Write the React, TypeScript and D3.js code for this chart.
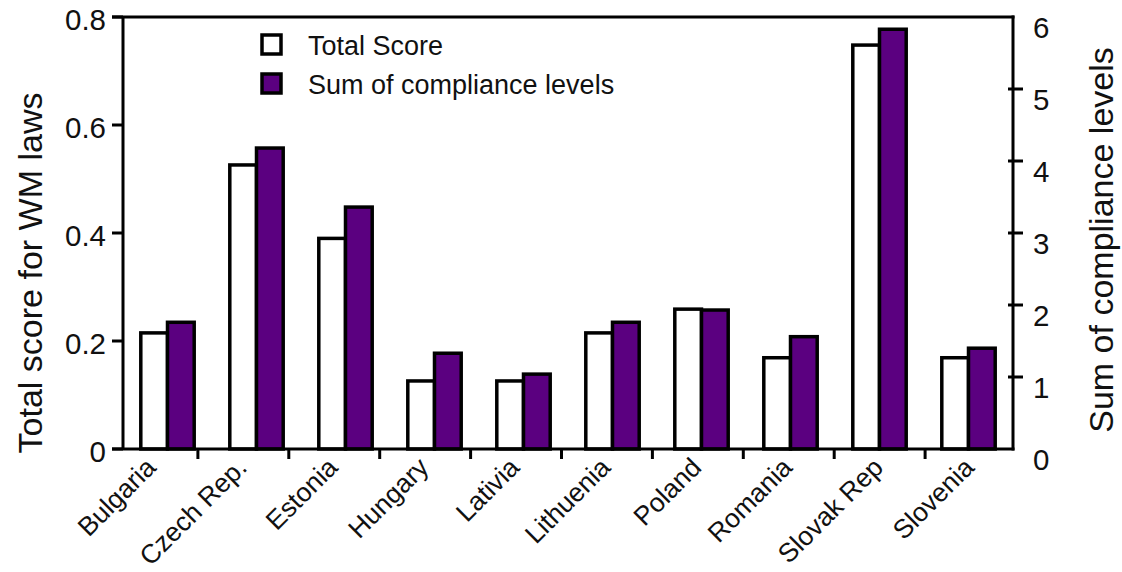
import React from "react";
import * as d3 from "d3";

const countries = ["Bulgaria", "Czech Rep.", "Estonia", "Hungary", "Lativia", "Lithuenia", "Poland", "Romania", "Slovak Rep", "Slovenia"];
const totalScore = [0.215, 0.526, 0.39, 0.126, 0.126, 0.215, 0.259, 0.169, 0.748, 0.169];
const complianceSum = [1.76, 4.18, 3.36, 1.33, 1.04, 1.76, 1.93, 1.56, 5.83, 1.4];
const leftTicks = [0, 0.2, 0.4, 0.6, 0.8];
const rightTicks = [0, 1, 2, 3, 4, 5, 6];
const seriesNames = ["Total Score", "Sum of compliance levels"];
const seriesKeys = ["total", "sum"];

const PURPLE = "#5b0080";
const FONT = "'Liberation Sans', Arial, sans-serif";

export default function App() {
  const W = 1122, H = 572;
  const top = 17, bottom = 449, left = 123, right = 1013;
  const yL = d3.scaleLinear().domain([0, 0.8]).range([bottom, top]);
  const yR = d3.scaleLinear().domain([0, 6]).range([bottom, top]);
  const xBar = d3.scaleBand<string>().domain(countries).range([left, right]).paddingInner(0.4).paddingOuter(0.2);
  const xSub = d3.scaleBand<string>().domain(seriesKeys).range([0, xBar.bandwidth()]);
  const xTick = d3.scaleBand<string>().domain(countries).range([107, 1016]);

  const sw = 3.5;
  return (
    <svg width={W} height={H} style={{ position: "absolute", left: 0, top: 0, background: "#fff" }} fontFamily={FONT}>
      <rect x={0} y={0} width={W} height={H} fill="#fff" />
      {/* bars */}
      {countries.map((c, i) => {
        const x0 = xBar(c)!;
        return (
          <g key={c}>
            <rect x={x0 + xSub("total")!} y={yL(totalScore[i])} width={xSub.bandwidth()} height={yL(0) - yL(totalScore[i])} fill="#fff" stroke="#000" strokeWidth={sw} />
            <rect x={x0 + xSub("sum")!} y={yR(complianceSum[i])} width={xSub.bandwidth()} height={yR(0) - yR(complianceSum[i])} fill={PURPLE} stroke="#000" strokeWidth={sw} />
          </g>
        );
      })}
      {/* frame */}
      <line x1={112} x2={right + 1.5} y1={top} y2={top} stroke="#000" strokeWidth={3} />
      <line x1={left} x2={left} y1={top} y2={bottom} stroke="#000" strokeWidth={3} />
      <line x1={right} x2={right} y1={top - 1.5} y2={bottom + 1.5} stroke="#000" strokeWidth={3} />
      <line x1={112} x2={right + 1.5} y1={bottom} y2={bottom} stroke="#000" strokeWidth={3} />
      {/* left ticks */}
      {leftTicks.map((t) => (
        <g key={"l" + t}>
          <line x1={112} x2={left} y1={yL(t)} y2={yL(t)} stroke="#000" strokeWidth={3} />
          <text x={106} y={yL(t) + 12.5} textAnchor="end" fontSize={29.5} fill="#111">{d3.format("~g")(t)}</text>
        </g>
      ))}
      {/* right ticks */}
      {rightTicks.map((t) => (
        <g key={"r" + t}>
          {t > 0 && t < 6 && <line x1={1008} x2={1023} y1={yR(t)} y2={yR(t)} stroke="#000" strokeWidth={3} />}
          <text x={1033} y={yR(t) + 21} textAnchor="start" fontSize={29.5} fill="#111">{t}</text>
        </g>
      ))}
      {/* x ticks and labels */}
      {countries.map((c, i) => (
        <g key={"x" + c}>
          {i > 0 && <line x1={xTick(c)!} x2={xTick(c)!} y1={bottom} y2={bottom + 10} stroke="#000" strokeWidth={3} />}
          <text
            transform={`translate(${xTick(c)! + xTick.bandwidth() / 2 + 5},${469}) rotate(-45)`}
            textAnchor="end"
            fontSize={26.5}
            fill="#111"
          >
            {c}
          </text>
        </g>
      ))}
      {/* axis titles */}
      <text transform="translate(42,273) rotate(-90)" textAnchor="middle" fontSize={34} fill="#111">Total score for WM laws</text>
      <text transform="translate(1113,240) rotate(-90)" textAnchor="middle" fontSize={34} fill="#111">Sum of compliance levels</text>
      {/* legend */}
      {seriesNames.map((n, i) => (
        <g key={n}>
          <rect x={262} y={35 + i * 39} width={19} height={19} fill={i === 0 ? "#fff" : PURPLE} stroke="#000" strokeWidth={sw} />
          <text x={308} y={55 + i * 39} fontSize={27} fill="#111">{n}</text>
        </g>
      ))}
    </svg>
  );
}
